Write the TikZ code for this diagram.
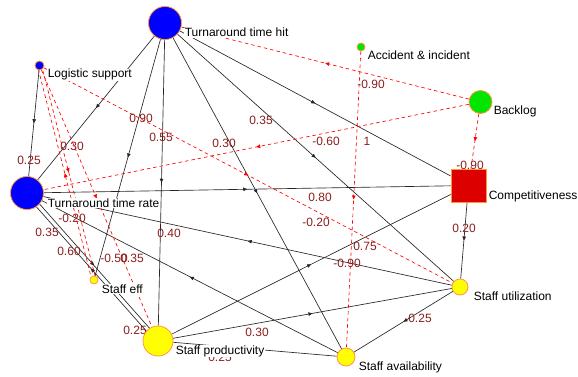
\documentclass[tikz,border=0pt]{standalone}
\usepackage{fontspec}
\setmainfont{Liberation Sans}
\usetikzlibrary{arrows.meta,decorations.markings,backgrounds}
\pgfdeclarelayer{bottom}
\pgfdeclarelayer{background}
\pgfsetlayers{bottom,background,main}
\definecolor{ndorange}{RGB}{255,150,60}
\definecolor{numred}{RGB}{140,30,30}
\definecolor{cblue}{RGB}{0,0,255}
\definecolor{cyellow}{RGB}{255,255,0}
\definecolor{cgreen}{RGB}{0,230,0}
\definecolor{cred}{RGB}{220,0,0}
\begin{document}
\begin{tikzpicture}[x=1pt,y=-1pt,font=\fontsize{12}{14}\selectfont,
  concept/.style={circle,draw=ndorange,line width=0.8pt,inner sep=0pt},
  nlabel/.style={anchor=base west,fill=white,inner sep=0.6pt,text=black},
  num/.style={text=numred,inner sep=0pt},
  sedge/.style={draw=black!85,line width=0.65pt,postaction={decorate},
    decoration={markings,mark=at position 0.5 with {\arrow{Triangle[length=4pt,width=3.5pt]}}}},
  dedge/.style={draw=red,line width=0.65pt,dash pattern=on 3.5pt off 3pt,postaction={decorate},
    decoration={markings,mark=at position 0.5 with {\arrow[red]{Triangle[length=4pt,width=3.5pt]}}}}]
\begin{pgfonlayer}{bottom}
\fill[white] (0,0) rectangle (578,377);
\end{pgfonlayer}
\useasboundingbox (0,0) rectangle (578,377);
% concepts
\node[concept,fill=cblue,minimum size=33pt] (TTH) at (165,23) {};
\node[concept,fill=cblue,minimum size=9pt] (LS) at (39.5,65.5) {};
\node[concept,fill=cgreen,minimum size=8pt] (AI) at (361,47) {};
\node[concept,fill=cgreen,minimum size=23pt] (BL) at (480.5,102) {};
\node[rectangle,draw=ndorange,fill=cred,line width=0.8pt,minimum width=35pt,minimum height=33pt,inner sep=0pt] (C) at (468.5,185.5) {};
\node[concept,fill=cblue,minimum size=33pt] (TTR) at (27,193) {};
\node[concept,fill=cyellow,minimum size=8pt] (SE) at (94,280) {};
\node[concept,fill=cyellow,minimum size=30pt] (SP) at (158,341) {};
\node[concept,fill=cyellow,minimum size=16pt] (SU) at (460,287) {};
\node[concept,fill=cyellow,minimum size=18pt] (SA) at (346,357) {};
\begin{pgfonlayer}{background}
% solid connectors
\draw[sedge] (TTH) -- (TTR);
\draw[sedge] (TTH) -- (SE);
\draw[sedge] (TTH) -- (SP);
\draw[sedge] (TTH) -- (SA);
\draw[sedge] (TTH) -- (SU);
\draw[sedge] (TTH) -- (C);
\draw[sedge] (LS) -- (TTR);
\draw[sedge] (TTR) -- (C);
\draw[sedge] (SU) -- (TTR);
\draw[sedge] (SA) -- (TTR);
\draw[sedge] ([shift={(1.6,-1.4)}]TTR.center) -- ([shift={(1.6,-1.4)}]SP.center);
\draw[sedge] ([shift={(-1.6,1.4)}]SP.center) -- ([shift={(-1.6,1.4)}]TTR.center);
\draw[sedge] (SP) -- (C);
\draw[sedge] (SP) -- (SU);
\draw[sedge] (SP) -- (SA);
\draw[sedge] (SU) -- (SA);
\draw[sedge] (C) -- (SU);
% dashed connectors
\draw[dedge] (BL) -- (TTH);
\draw[dedge] (BL) -- (TTR);
\draw[dedge] (BL) -- (C);
\draw[dedge] (AI) -- (SA);
\draw[dedge] (LS) -- (SU);
\draw[dedge] ([shift={(2,-0.5)}]LS.center) -- ([shift={(2,-0.5)}]SE.center);
\draw[dedge] ([shift={(-2,0.5)}]SE.center) -- ([shift={(-2,0.5)}]LS.center);
\draw[dedge] (LS) -- (SP);
% weights
\node[num] (w1) at (141,118) {0.90};
\node[num] (w2) at (161,137) {0.55};
\node[num] (w3) at (72,146) {0.30};
\node[num] (w4) at (29,160) {0.25};
\node[num] (w5) at (261,120) {0.35};
\node[num] (w6) at (224,143) {0.30};
\node[num] (w7) at (371,84) {-0.90};
\node[num] (w8) at (326,141) {-0.60};
\node[num] (w9) at (367,141) {1};
\node[num] (w10) at (470,165) {-0.90};
\node[num] (w11) at (72,218) {-0.20};
\node[num] (w12) at (47,232) {0.35};
\node[num] (w13) at (69,251) {0.60};
\node[num] (w14) at (114,258) {-0.50};
\node[num] (w15) at (132,258) {0.35};
\node[num] (w16) at (169,233) {0.40};
\node[num] (w17) at (135,330) {0.25};
\node[num] (w18) at (257,332) {0.30};
\node[num] (w19) at (220,357) {0.25};
\node[num] (w20) at (320,197) {0.80};
\node[num] (w21) at (316,222) {-0.20};
\node[num] (w22) at (365,246) {0.75};
\node[num] (w23) at (347,263) {-0.90};
\node[num] (w24) at (464,228) {0.20};
\node[num] (w25) at (420,318) {0.25};
\end{pgfonlayer}
% concept names
\node[nlabel] (tTTH) at (184,37) {Turnaround time hit};
\node[nlabel] (tLS) at (47,78) {Logistic support};
\node[nlabel] (tAI) at (367,60) {Accident \& incident};
\node[nlabel] (tBL) at (493,114) {Backlog};
\node[nlabel] (tC) at (488,199) {Competitiveness};
\node[nlabel] (tTTR) at (47,207) {Turnaround time rate};
\node[nlabel] (tSE) at (101,293) {Staff eff};
\node[nlabel] (tSP) at (175,354) {Staff productivity};
\node[nlabel] (tSU) at (473,300) {Staff utilization};
\node[nlabel] (tSA) at (358,370) {Staff availability};
\end{tikzpicture}
\end{document}
